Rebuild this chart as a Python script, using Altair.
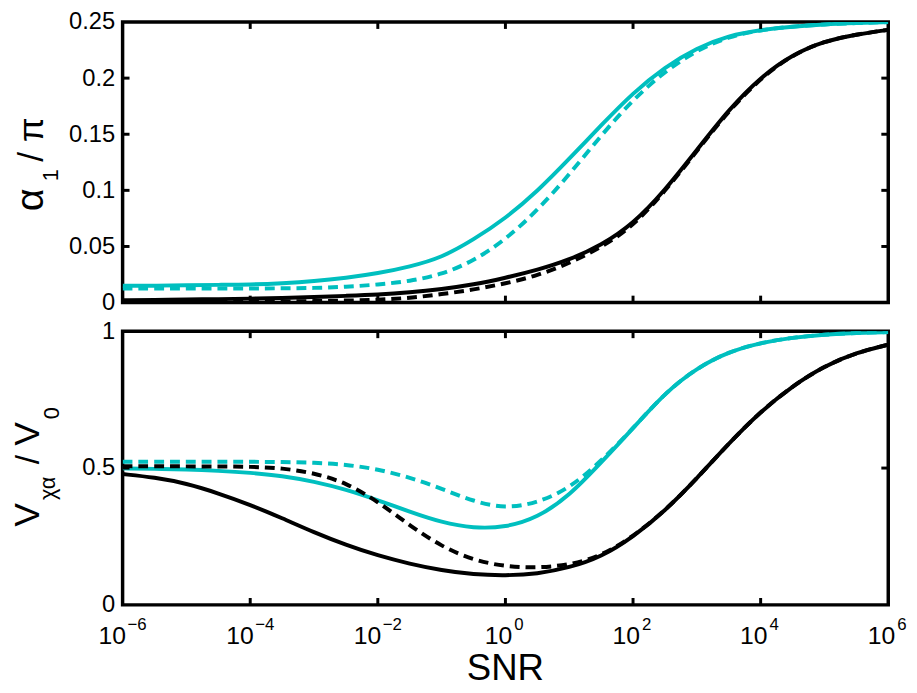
import altair as alt
import pandas as pd

# ---------------- data ----------------
LOG_SNR = [-6, -5.5, -5, -4.5, -4, -3.5, -3, -2.5, -2, -1.5, -1, -0.5, 0,
           0.5, 1, 1.5, 2, 2.5, 3, 3.5, 4, 4.5, 5, 5.5, 6]

ALPHA_CYAN_SOLID = [0.015, 0.015, 0.0155, 0.0158, 0.016, 0.0172, 0.019, 0.022, 0.026,
                    0.032, 0.040, 0.056, 0.075, 0.099, 0.128, 0.158, 0.187, 0.210,
                    0.227, 0.238, 0.243, 0.246, 0.248, 0.249, 0.250]
ALPHA_CYAN_DASHED = [0.0125, 0.0125, 0.0125, 0.0125, 0.0125, 0.0127, 0.013, 0.014, 0.016,
                     0.019, 0.025, 0.037, 0.056, 0.082, 0.114, 0.149, 0.181, 0.206,
                     0.225, 0.237, 0.243, 0.246, 0.248, 0.249, 0.250]
ALPHA_BLACK_SOLID = [0.002, 0.0023, 0.0027, 0.0031, 0.0035, 0.004, 0.005, 0.006, 0.007,
                     0.009, 0.012, 0.016, 0.022, 0.029, 0.038, 0.051, 0.070, 0.100,
                     0.136, 0.172, 0.201, 0.221, 0.233, 0.239, 0.243]
ALPHA_BLACK_DASHED = [0.0005, 0.0005, 0.0006, 0.0007, 0.0008, 0.001, 0.0013, 0.0018, 0.0025,
                      0.004, 0.0075, 0.0115, 0.017, 0.024, 0.035, 0.049, 0.068, 0.099,
                      0.135, 0.171, 0.200, 0.221, 0.233, 0.239, 0.243]

V_CYAN_SOLID = [0.499, 0.497, 0.495, 0.490, 0.483, 0.472, 0.451, 0.422, 0.383,
                0.340, 0.301, 0.280, 0.283, 0.318, 0.398, 0.520, 0.645, 0.775,
                0.866, 0.925, 0.958, 0.977, 0.988, 0.994, 0.997]
V_CYAN_DASHED = [0.523, 0.523, 0.523, 0.523, 0.523, 0.522, 0.520, 0.513, 0.496,
                 0.466, 0.425, 0.378, 0.352, 0.373, 0.425, 0.525, 0.645, 0.775,
                 0.866, 0.925, 0.958, 0.977, 0.988, 0.994, 0.997]
V_BLACK_SOLID = [0.478, 0.466, 0.444, 0.408, 0.366, 0.317, 0.265, 0.219, 0.180,
                 0.150, 0.126, 0.111, 0.107, 0.113, 0.136, 0.175, 0.248, 0.343,
                 0.462, 0.590, 0.707, 0.800, 0.873, 0.922, 0.951]
V_BLACK_DASHED = [0.507, 0.507, 0.506, 0.506, 0.505, 0.500, 0.482, 0.447, 0.378,
                  0.290, 0.213, 0.163, 0.140, 0.135, 0.146, 0.178, 0.250, 0.343,
                  0.462, 0.590, 0.707, 0.800, 0.873, 0.922, 0.951]

TICK_EXP = [-6, -4, -2, 0, 2, 4, 6]
TICK_SUP = ["\u22126", "\u22124", "\u22122", "0", "2", "4", "6"]
ALPHA_TICKS = [0, 0.05, 0.1, 0.15, 0.2, 0.25]
V_TICKS = [0, 0.5, 1]

# ---------------- styling ----------------
W, H1, H2 = 775, 284, 277
CYAN = "#00BFBF"
FONT = "Liberation Sans"
LW = 4
DASH = [10, 6]
TL = 7  # inner tick length

snr = [10 ** e for e in LOG_SNR]
xscale = alt.Scale(type="log", domain=[1e-6, 1e6], nice=False)


def y_enc(domain, ticks):
    return alt.Y("v:Q", scale=alt.Scale(domain=domain, nice=False, zero=False),
                 axis=alt.Axis(values=ticks, format="~g", ticks=False, tickSize=0,
                               domain=False, grid=False, labelFontSize=24,
                               labelFont=FONT, labelColor="black", labelPadding=8,
                               title=None, labelOverlap=False, labelFlush=False))


def x_enc():
    return alt.X("snr:Q", scale=xscale, axis=None)


def panel(series, domain, ticks, H, title_parts, bottom_labels):
    layers = []
    for vals, color, dashed in series:
        df = pd.DataFrame({"snr": snr, "v": vals})
        kw = dict(color=color, strokeWidth=LW, interpolate="basis", clip=True)
        if dashed:
            kw["strokeDash"] = DASH
        layers.append(alt.Chart(df).mark_line(**kw).encode(x=x_enc(), y=y_enc(domain, ticks)))
    # tick marks inside on all four sides
    tx = pd.DataFrame({"snr": [10 ** e for e in TICK_EXP[1:-1]]})
    layers.append(alt.Chart(tx).mark_rule(color="black", strokeWidth=3).encode(
        x=x_enc(), y=alt.value(0), y2=alt.value(TL)))
    layers.append(alt.Chart(tx).mark_rule(color="black", strokeWidth=3).encode(
        x=x_enc(), y=alt.value(H), y2=alt.value(H - TL)))
    ty = pd.DataFrame({"v": ticks[1:-1]})
    layers.append(alt.Chart(ty).mark_rule(color="black", strokeWidth=3).encode(
        y=y_enc(domain, ticks), x=alt.value(0), x2=alt.value(TL)))
    layers.append(alt.Chart(ty).mark_rule(color="black", strokeWidth=3).encode(
        y=y_enc(domain, ticks), x=alt.value(W), x2=alt.value(W - TL)))
    # y title pieces (rotated)
    for text, size, bx, cy in title_parts:
        layers.append(alt.Chart(pd.DataFrame({"t": [text]})).mark_text(
            angle=270, align="center", baseline="alphabetic", fontSize=size,
            font=FONT, color="black").encode(
            text="t:N", x=alt.value(bx), y=alt.value(cy)))
    if bottom_labels:
        lab = pd.DataFrame({"snr": [10 ** e for e in TICK_EXP],
                            "base": ["10"] * len(TICK_EXP),
                            "sup": TICK_SUP,
                            "neg": [e < 0 for e in TICK_EXP]})
        for neg, d10, dsup in [(True, 3.5, 5), (False, 7, 9)]:
            flt = "datum.neg" if neg else "!datum.neg"
            layers.append(alt.Chart(lab).transform_filter(flt).mark_text(
                align="right", baseline="alphabetic", fontSize=25, font=FONT,
                color="black", dx=d10).encode(
                x=x_enc(), y=alt.value(H + 40), text="base:N"))
            layers.append(alt.Chart(lab).transform_filter(flt).mark_text(
                align="left", baseline="alphabetic", fontSize=17, font=FONT,
                color="black", dx=dsup).encode(
                x=x_enc(), y=alt.value(H + 25), text="sup:N"))
        layers.append(alt.Chart(pd.DataFrame({"t": ["SNR"]})).mark_text(
            align="center", baseline="alphabetic", fontSize=37, font=FONT,
            color="black").encode(text="t:N", x=alt.value(W / 2), y=alt.value(H + 76)))
    return alt.layer(*layers).properties(width=W, height=H)


top = panel(
    [(ALPHA_CYAN_SOLID, CYAN, False), (ALPHA_BLACK_SOLID, "black", False),
     (ALPHA_CYAN_DASHED, CYAN, True), (ALPHA_BLACK_DASHED, "black", True)],
    [0, 0.25], ALPHA_TICKS, H1,
    [("\u03b1", 40, -81, 180), ("1", 22, -65, 155), ("/ \u03c0", 36, -81, 119)],
    False)

bottom = panel(
    [(V_CYAN_SOLID, CYAN, False), (V_BLACK_SOLID, "black", False),
     (V_CYAN_DASHED, CYAN, True), (V_BLACK_DASHED, "black", True)],
    [0, 1], V_TICKS, H2,
    [("V", 36, -85, 186), ("\u03c7\u03b1", 22, -68, 159), ("/", 34, -85, 130),
     ("V", 36, -85, 104), ("0", 22, -64, 83)],
    True)

chart = alt.vconcat(top, bottom, spacing=29, bounds="flush").properties(
    padding={"left": 0, "top": -4, "right": 0, "bottom": 0}
).configure_view(stroke="black", strokeWidth=3.5)

chart.save("out.html", embed_options={"renderer": "svg", "actions": False})
